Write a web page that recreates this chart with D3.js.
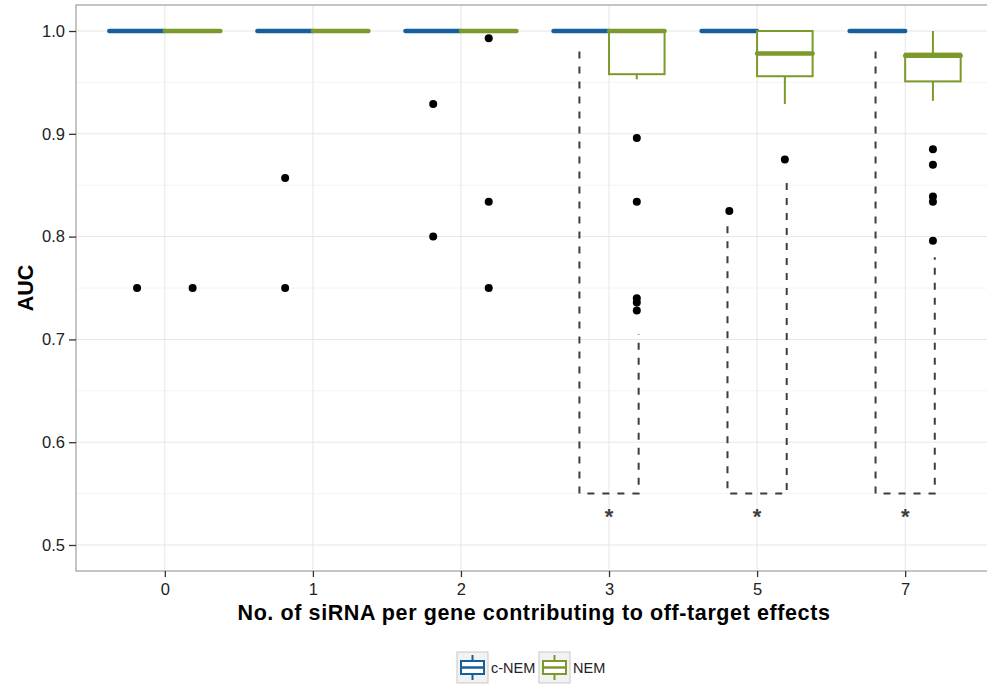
<!DOCTYPE html>
<html>
<head>
<meta charset="utf-8">
<script src="https://cdn.jsdelivr.net/npm/d3@7"></script>
<style>
  html, body { margin: 0; padding: 0; background: #fff; }
  svg { display: block; font-family: "Liberation Sans", Arial, Helvetica, sans-serif; }
</style>
</head>
<body>
<svg id="chart" width="987" height="684"></svg>
<script>
// categories and series
const groups = ['0', '1', '2', '3', '5', '7'];
const methods = ['c-NEM', 'NEM'];
const colors = ['#14609f', '#7c9a2b'];

// box stats per group: [lower whisker, q1, median, q3, upper whisker]
const cnemStats = [
    [1, 1, 1, 1, 1], [1, 1, 1, 1, 1], [1, 1, 1, 1, 1],
    [1, 1, 1, 1, 1], [1, 1, 1, 1, 1], [1, 1, 1, 1, 1]
];
const nemStats = [
    [1, 1, 1, 1, 1], [1, 1, 1, 1, 1], [1, 1, 1, 1, 1],
    [0.953, 0.958, 1, 1, 1], [0.929, 0.956, 0.978, 1, 1], [0.932, 0.951, 0.976, 0.978, 1]
];
const cnemOutliers = [[0.75], [0.857, 0.75], [0.929, 0.80], [], [0.825], []];
const nemOutliers = [[0.75], [], [0.993, 0.834, 0.75], [0.896, 0.834, 0.740, 0.736, 0.728], [0.875], [0.885, 0.870, 0.839, 0.834, 0.796]];

// significance brackets
const sigGroups = ['3', '5', '7'];
const bracketLeftTop = [0.98, 0.81, 0.98];
const bracketRightTop = [0.705, 0.86, 0.78];
const bracketBase = 0.55;
const starY = 0.533;

const yTicks = [0.5, 0.6, 0.7, 0.8, 0.9, 1.0];
const yMinor = [0.55, 0.65, 0.75, 0.85, 0.95];

const svg = d3.select('#chart');
const panel = { left: 76, top: 5, right: 994, bottom: 571 };

const x = d3.scalePoint().domain(groups).range([panel.left, panel.right]).padding(0.6);
const step = x.step();
const dodge = d3.scaleBand().domain(methods).range([-0.375 * step, 0.375 * step]);
const y = d3.scaleLinear().domain([0.4747, 1.0253]).range([panel.bottom, panel.top]);

// grid
const grid = svg.append('g');
grid.selectAll('.minor').data(yMinor).join('line')
    .attr('x1', panel.left).attr('x2', panel.right)
    .attr('y1', d => y(d)).attr('y2', d => y(d))
    .attr('stroke', '#f4f4f4').attr('stroke-width', 1);
grid.selectAll('.major').data(yTicks).join('line')
    .attr('x1', panel.left).attr('x2', panel.right)
    .attr('y1', d => y(d)).attr('y2', d => y(d))
    .attr('stroke', '#e6e6e6').attr('stroke-width', 1);
grid.selectAll('.vmajor').data(groups).join('line')
    .attr('x1', d => x(d)).attr('x2', d => x(d))
    .attr('y1', panel.top).attr('y2', panel.bottom)
    .attr('stroke', '#e6e6e6').attr('stroke-width', 1);

// brackets
const br = svg.append('g').attr('fill', 'none').attr('stroke', '#3d3d3d')
    .attr('stroke-width', 2).attr('stroke-dasharray', '7,8');
sigGroups.forEach((g, i) => {
    const xl = x(g) - 0.2 * step, xr = x(g) + 0.2 * step;
    br.append('path').attr('d', d3.line()([
        [xl, y(bracketLeftTop[i])], [xl, y(bracketBase)], [xr, y(bracketBase)], [xr, y(bracketRightTop[i])]
    ]));
    svg.append('text').attr('x', x(g)).attr('y', y(starY) + 13)
        .attr('text-anchor', 'middle').attr('font-size', 22).attr('font-weight', 'bold')
        .attr('fill', '#3d3d3d').text('*');
});

// boxes
const allStats = [cnemStats, nemStats];
const allOutliers = [cnemOutliers, nemOutliers];
const half = dodge.bandwidth() / 2;
methods.forEach((m, mi) => {
    const gBox = svg.append('g').attr('stroke', colors[mi]).attr('fill', '#fff');
    groups.forEach((g, gi) => {
        const [lo, q1, med, q3, hi] = allStats[mi][gi];
        const cx = x(g) + dodge(m) + half;
        gBox.append('line').attr('x1', cx).attr('x2', cx).attr('y1', y(hi)).attr('y2', y(q3)).attr('stroke-width', 2);
        gBox.append('line').attr('x1', cx).attr('x2', cx).attr('y1', y(q1)).attr('y2', y(lo)).attr('stroke-width', 2);
        gBox.append('rect').attr('x', cx - half).attr('width', 2 * half)
            .attr('y', y(q3)).attr('height', Math.max(0, y(q1) - y(q3))).attr('stroke-width', 2);
        gBox.append('line').attr('x1', cx - half).attr('x2', cx + half)
            .attr('y1', y(med)).attr('y2', y(med)).attr('stroke-width', 4.5).attr('stroke-linecap', 'round');
    });
});

// outliers
methods.forEach((m, mi) => {
    groups.forEach((g, gi) => {
        const cx = x(g) + dodge(m) + half;
        svg.append('g').selectAll('circle').data(allOutliers[mi][gi]).join('circle')
            .attr('cx', cx).attr('cy', d => y(d)).attr('r', 4).attr('fill', '#000');
    });
});

// panel border
svg.append('rect').attr('x', panel.left).attr('y', panel.top)
    .attr('width', panel.right - panel.left).attr('height', panel.bottom - panel.top)
    .attr('fill', 'none').attr('stroke', '#a6a6a6').attr('stroke-width', 1.3);

// axes
const yAxis = svg.append('g').attr('transform', `translate(${panel.left},0)`)
    .call(d3.axisLeft(y).tickValues(yTicks).tickFormat(d3.format('.1f')).tickSize(7).tickPadding(4));
yAxis.select('.domain').remove();
yAxis.selectAll('line').attr('stroke', '#333').attr('stroke-width', 1.3);
yAxis.selectAll('text').attr('font-size', 16.5).attr('fill', '#222').attr('font-family', null);

const xAxis = svg.append('g').attr('transform', `translate(0,${panel.bottom})`)
    .call(d3.axisBottom(x).tickSize(6).tickPadding(6));
xAxis.select('.domain').remove();
xAxis.selectAll('line').attr('stroke', '#333').attr('stroke-width', 1.3);
xAxis.selectAll('text').attr('font-size', 16.5).attr('fill', '#222').attr('font-family', null);

svg.append('text').attr('x', (panel.left + panel.right) / 2 - 1).attr('y', 620)
    .attr('text-anchor', 'middle').attr('font-size', 21.5).attr('font-weight', 'bold')
    .attr('letter-spacing', 0.6).attr('fill', '#000')
    .text('No. of siRNA per gene contributing to off-target effects');
svg.append('text').attr('transform', `translate(33,${(panel.top + panel.bottom) / 2}) rotate(-90)`)
    .attr('text-anchor', 'middle').attr('font-size', 21.5).attr('font-weight', 'bold')
    .attr('fill', '#000').text('AUC');

// legend
const legend = svg.append('g');
const keyX = [457, 539];
methods.forEach((m, mi) => {
    const k = legend.append('g').attr('transform', `translate(${keyX[mi]},652)`);
    k.append('rect').attr('width', 31).attr('height', 31).attr('fill', '#f2f2f2').attr('stroke', '#c8c8c8').attr('stroke-width', 1);
    const c = colors[mi];
    k.append('line').attr('x1', 15.5).attr('x2', 15.5).attr('y1', 3).attr('y2', 9).attr('stroke', c).attr('stroke-width', 2);
    k.append('line').attr('x1', 15.5).attr('x2', 15.5).attr('y1', 22).attr('y2', 28).attr('stroke', c).attr('stroke-width', 2);
    k.append('rect').attr('x', 4).attr('y', 9).attr('width', 23).attr('height', 13).attr('fill', '#fff').attr('stroke', c).attr('stroke-width', 2);
    k.append('line').attr('x1', 4).attr('x2', 27).attr('y1', 15.5).attr('y2', 15.5).attr('stroke', c).attr('stroke-width', 2.5);
    legend.append('text').attr('x', keyX[mi] + 34).attr('y', 673).attr('font-size', 14.5)
        .attr('fill', '#222').text(m);
});
</script>
</body>
</html>
